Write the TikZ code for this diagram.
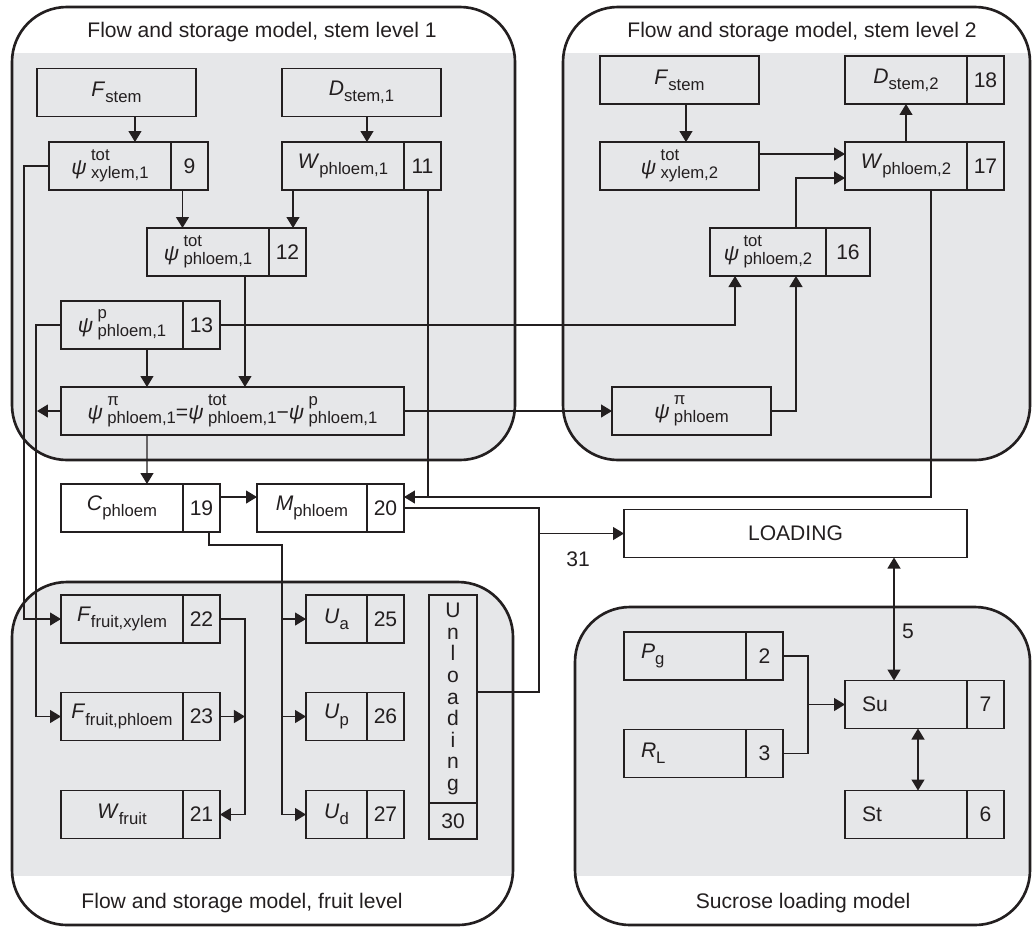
\documentclass[tikz,border=0pt]{standalone}
\usepackage{fontspec}
\setmainfont{Liberation Sans}
\usetikzlibrary{positioning,arrows.meta,calc}
\definecolor{panelgrey}{RGB}{230,231,233}
\definecolor{ink}{RGB}{35,31,32}
\newcommand\subf{\fontsize{9.5}{9.5}\selectfont}
\newcommand\vs[2]{\textit{#1}\raisebox{-3.5pt}{\subf #2}}
\newcommand\ps[2]{\textit{ψ}\hspace{2.5pt}\makebox[0pt][l]{\raisebox{7.5pt}{\subf #1}}\raisebox{-2.5pt}{\subf #2}}
\tikzset{
  box/.style={draw=ink, line width=.7pt, minimum height=.96cm, inner sep=0pt, outer sep=0pt},
  lbox/.style={box, minimum width=2.44cm},
  wbox/.style={box, minimum width=3.18cm},
  num/.style={box, minimum width=.74cm},
  leftlbl/.style={align=left, text width=1.76cm},
  panel/.style={draw=ink, line width=1.5pt, rounded corners=1.1cm},
  title/.style={anchor=base},
  conn/.style={draw=ink, line width=.7pt},
  arr/.style={conn, -{Triangle[length=2.2mm,width=2.6mm]}},
  arrr/.style={conn, {Triangle[length=2.2mm,width=2.6mm]}-{Triangle[length=2.2mm,width=2.6mm]}},
}
\begin{document}
\begin{tikzpicture}[x=0.02cm, y=-0.02cm, font=\fontsize{12}{14}\selectfont,
  every node/.append style={text=ink}]
  \useasboundingbox (0,0) rectangle (1033,927);

  % panels
  \begin{scope}
    \clip[rounded corners=1.1cm] (12,7) rectangle (515,460);
    \fill[panelgrey] (12,53) rectangle (515,460);
  \end{scope}
  \draw[panel] (12,7) rectangle (515,460);
  \begin{scope}
    \clip[rounded corners=1.1cm] (563,7) rectangle (1030,460);
    \fill[panelgrey] (563,53) rectangle (1030,460);
  \end{scope}
  \draw[panel] (563,7) rectangle (1030,460);
  \begin{scope}
    \clip[rounded corners=1.1cm] (12,582) rectangle (513,925);
    \fill[panelgrey] (12,582) rectangle (513,876);
  \end{scope}
  \draw[panel] (12,582) rectangle (513,925);
  \begin{scope}
    \clip[rounded corners=1.1cm] (575,607) rectangle (1030,925);
    \fill[panelgrey] (575,607) rectangle (1030,876);
  \end{scope}
  \draw[panel] (575,607) rectangle (1030,925);

  \node[title] (tstem1) at (262,37) {Flow and storage model, stem level 1};
  \node[title] (tstem2) at (802,37) {Flow and storage model, stem level 2};
  \node[title] (tfruit) at (242,908) {Flow and storage model, fruit level};
  \node[title] (tsucr) at (803,908) {Sucrose loading model};

  % stem level 1
  \node[wbox, anchor=west] (Fs1) at (37,92.5) {\vs{F}{stem}};
  \node[wbox, anchor=west] (Ds1) at (282,92.5) {\vs{D}{stem,1}};
  \node[lbox, anchor=west] (Px1) at (49,166) {\ps{tot}{xylem,1}};
  \node[num, right=0pt of Px1] (n9) {9};
  \node[lbox, anchor=west] (Wp1) at (282,166) {\vs{W}{phloem,1}};
  \node[num, right=0pt of Wp1] (n11) {11};
  \node[lbox, anchor=west] (Pt1) at (147,252) {\ps{tot}{phloem,1}};
  \node[num, right=0pt of Pt1] (n12) {12};
  \node[lbox, anchor=west] (Pp1) at (61,325) {\ps{p}{phloem,1}};
  \node[num, right=0pt of Pp1] (n13) {13};
  \node[box, minimum width=6.86cm, anchor=west] (Eq1) at (61,411)
    {\ps{π}{phloem,1}=\ps{tot}{phloem,1}−\ps{p}{phloem,1}};

  % stem level 2
  \node[wbox, anchor=west] (Fs2) at (600,80) {\vs{F}{stem}};
  \node[lbox, anchor=west] (Ds2) at (845,80) {\vs{D}{stem,2}};
  \node[num, right=0pt of Ds2] (n18) {18};
  \node[wbox, anchor=west] (Px2) at (600,166) {\ps{tot}{xylem,2}};
  \node[lbox, anchor=west] (Wp2) at (845,166) {\vs{W}{phloem,2}};
  \node[num, right=0pt of Wp2] (n17) {17};
  \node[box, minimum width=2.32cm, anchor=west] (Pt2) at (710,252) {\ps{tot}{phloem,2}};
  \node[num, minimum width=.88cm, right=0pt of Pt2] (n16) {16};
  \node[wbox, anchor=west] (Ppi) at (612,411) {\ps{π}{phloem}};

  % between the panels
  \node[lbox, anchor=west] (Cph) at (61,508) {\vs{C}{phloem}};
  \node[num, right=0pt of Cph] (n19) {19};
  \node[box, minimum width=2.2cm, anchor=west] (Mph) at (257,508) {\vs{M}{phloem}};
  \node[num, right=0pt of Mph] (n20) {20};
  \node[box, minimum width=6.86cm, anchor=west] (Load) at (624,533.5) {LOADING};
  \node (l31) at (578,559) {31};

  % fruit level
  \node[lbox, anchor=west] (Ffx) at (61,619) {\vs{F}{fruit,xylem}};
  \node[num, right=0pt of Ffx] (n22) {22};
  \node[lbox, anchor=west] (Ffp) at (61,716.5) {\vs{F}{fruit,phloem}};
  \node[num, right=0pt of Ffp] (n23) {23};
  \node[lbox, anchor=west] (Wfr) at (61,814.5) {\vs{W}{fruit}};
  \node[num, right=0pt of Wfr] (n21) {21};
  \node[box, minimum width=1.22cm, anchor=west] (Ua) at (306,619) {\vs{U}{a}};
  \node[num, right=0pt of Ua] (n25) {25};
  \node[box, minimum width=1.22cm, anchor=west] (Up) at (306,716.5) {\vs{U}{p}};
  \node[num, right=0pt of Up] (n26) {26};
  \node[box, minimum width=1.22cm, anchor=west] (Ud) at (306,814.5) {\vs{U}{d}};
  \node[num, right=0pt of Ud] (n27) {27};
  \node[box, minimum width=.96cm, minimum height=4.16cm, align=center,
    font=\fontsize{12}{12.3}\selectfont] (Unl) at (453,699) {U\\n\\l\\o\\a\\d\\i\\n\\g};
  \node[box, minimum width=.96cm, minimum height=.72cm, below=0pt of Unl] (n30) {30};

  % sucrose loading
  \node[lbox, leftlbl, anchor=west] (Pg) at (624,656) {\vs{P}{g}};
  \node[num, right=0pt of Pg] (n2) {2};
  \node[lbox, leftlbl, anchor=west] (RL) at (624,753.5) {\vs{R}{L}};
  \node[num, right=0pt of RL] (n3) {3};
  \node[lbox, leftlbl, anchor=west] (Su) at (845,704.5) {Su};
  \node[num, right=0pt of Su] (n7) {7};
  \node[lbox, leftlbl, anchor=west] (St) at (845,814.5) {St};
  \node[num, right=0pt of St] (n6) {6};

  % connectors, stem level 1
  \draw[arr] ([xshift=.37cm]Fs1.south) coordinate (a1) -- (a1 |- Px1.north);
  \draw[arr] ([xshift=.11cm]Ds1.south) coordinate (a2) -- (a2 |- Wp1.north);
  \draw[arr] ([xshift=-.14cm]n9.south) coordinate (a3) -- (a3 |- Pt1.north);
  \draw[arr] ([xshift=.22cm]Wp1.south west) coordinate (a4) -- (a4 |- n12.north);
  \draw[arr] ([xshift=.5cm]Pp1.south) coordinate (a5) -- (a5 |- Eq1.north);
  \draw[arr] ([xshift=.74cm]Pt1.south) coordinate (a6) -- (a6 |- Eq1.north);
  \draw[arr] (Eq1.west) -- ++(-24,0);
  \draw[arr] (Px1.west) -- ++(-25,0) |- (Ffx.west);
  \draw[arr] (Pp1.west) -- ++(-25,0) |- (Ffp.west);
  \draw[arr] (n13.east) -| ([xshift=.5cm]Pt2.south west);
  \draw[arr] (Eq1.east) -- (Ppi.west);
  \draw[arr] ([xshift=1.72cm]Eq1.south west) -- ([xshift=.5cm]Cph.north);

  % connectors, stem level 2
  \draw[arr] ([xshift=.13cm]Fs2.south) coordinate (b1) -- (b1 |- Px2.north);
  \draw[arr] (Wp2.north) -- (Ds2.south);
  \draw[arr] ([yshift=.24cm]Px2.east) -- ([yshift=.24cm]Wp2.west);
  \draw[arr] ([xshift=.56cm]Pt2.north) |- ([yshift=-.24cm]Wp2.west);
  \draw[arr] (Ppi.east) -| ([xshift=.56cm]Pt2.south);

  % connectors between the panels
  \draw[arr] ([yshift=.22cm]n19.east) -- ([yshift=.22cm]Mph.west);
  \draw[conn] ([xshift=.11cm]n11.south) |- ([yshift=.22cm]n20.east);
  \draw[arr] ([xshift=.5cm]Wp2.south) |- ([yshift=.22cm]n20.east);
  \draw[conn] (n20.east) -- ++(135,0) coordinate (j31) |- ([yshift=.14cm]Unl.east);
  \draw[arr] (j31 |- Load.west) -- (Load.west);
  \draw[arr] ([xshift=.15cm]n19.south) -- ++(0,13) -| ([xshift=-.48cm]Ud.west) -- (Ud.west);
  \draw[arr] ([xshift=-.48cm]Ua.west) -- (Ua.west);
  \draw[arr] ([xshift=-.48cm]Up.west) -- (Up.west);

  % connectors, fruit level
  \draw[arr] (n22.east) -- ++(25,0) |- (n21.east);
  \draw[arr] (n23.east) -- ++(25,0);

  % connectors, sucrose loading
  \draw[conn] (n2.east) -| ([xshift=-.74cm]Su.west) |- (n3.east);
  \draw[arr] ([xshift=-.74cm]Su.west) -- (Su.west);
  \draw[arrr] ([xshift=-.24cm]Su.north) coordinate (s5) -- (s5 |- Load.south)
    node[pos=.4, right=1pt] (l5) {5};
  \draw[arrr] ([xshift=.24cm]Su.south) coordinate (s6) -- (s6 |- St.north);
\end{tikzpicture}
\end{document}
